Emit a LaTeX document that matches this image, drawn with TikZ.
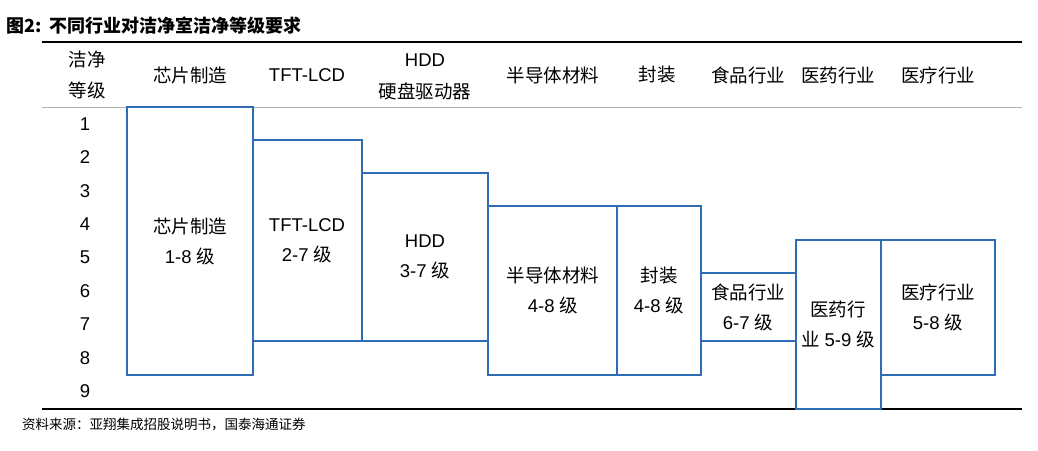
\documentclass[tikz,border=0pt]{standalone}
\usepackage{fontspec}
\setmainfont{Liberation Sans}
\newfontfamily\cjk{Noto Sans CJK SC}
\definecolor{boxblue}{HTML}{2E6DB4}
\begin{document}
\begin{tikzpicture}[x=1pt,y=-1pt,
  box/.style={draw=boxblue, line width=1.3pt},
  lab/.style={font=\fontsize{18.5}{22}\selectfont, align=center, inner sep=0pt},
  num/.style={font=\fontsize{18.5}{20}\selectfont, inner sep=0pt}]
\useasboundingbox (0,0) rectangle (1038,450);
\node[anchor=west, font=\cjk\bfseries\fontsize{18}{20}\selectfont, inner sep=0pt] (title) at (6,26) {图2:\ \ 不同行业对洁净室洁净等级要求};
\draw[line width=1.6pt] (42,42) -- (1022,42);
\draw[gray!60, line width=0.8pt] (42,107) -- (1022,107);
\draw[line width=1.2pt] (42,409) -- (1022,409);
% header
\node[lab,font=\cjk\fontsize{18.5}{31}\selectfont] (h0) at (87,75) {洁净\\等级};
\node[lab,font=\cjk\fontsize{18.5}{22}\selectfont] (h1) at (190,75) {芯片制造};
\node[lab] (h2) at (307,75) {TFT-LCD};
\node[lab] (h3) at (425,60) {HDD};
\node[lab,font=\cjk\fontsize{18.5}{22}\selectfont] (h3b) at (425,91) {硬盘驱动器};
\node[lab,font=\cjk\fontsize{18.5}{22}\selectfont] (h4) at (553,75) {半导体材料};
\node[lab,font=\cjk\fontsize{18.5}{22}\selectfont] (h5) at (657,75) {封装};
\node[lab,font=\cjk\fontsize{18.5}{22}\selectfont] (h6) at (748,75) {食品行业};
\node[lab,font=\cjk\fontsize{18.5}{22}\selectfont] (h7) at (838,75) {医药行业};
\node[lab,font=\cjk\fontsize{18.5}{22}\selectfont] (h8) at (938,75) {医疗行业};
% numbers
\foreach \i in {1,...,9} {
  \node[num] (n\i) at (85,{124+33.4*(\i-1)}) {\i};
}
% boxes
\draw[box] (127,107) rectangle (253,375);
\draw[box] (253,140) rectangle (362,341);
\draw[box] (362,173) rectangle (488,341);
\draw[box] (488,206) rectangle (617,375);
\draw[box] (617,206) rectangle (701,375);
\draw[box] (701,273) rectangle (796,341);
\draw[box] (796,240) rectangle (881,409);
\draw[box] (881,240) rectangle (995,375);
\node[lab] (b1) at (190,241) {{\cjk 芯片制造}\\[8pt]1-8 {\cjk 级}};
\node[lab] (b2) at (307,241) {TFT-LCD\\[8pt]2-7 {\cjk 级}};
\node[lab] (b3) at (425,257) {HDD\\[8pt]3-7 {\cjk 级}};
\node[lab] (b4) at (553,290) {{\cjk 半导体材料}\\[8pt]4-8 {\cjk 级}};
\node[lab] (b5) at (659,290) {{\cjk 封装}\\[8pt]4-8 {\cjk 级}};
\node[lab] (b6) at (748,307) {{\cjk 食品行业}\\[8pt]6-7 {\cjk 级}};
\node[lab] (b7) at (838,324) {{\cjk 医药行}\\[8pt]{\cjk 业} 5-9 {\cjk 级}};
\node[lab] (b8) at (938,307) {{\cjk 医疗行业}\\[8pt]5-8 {\cjk 级}};
\node[anchor=west, font=\cjk\fontsize{13.5}{15}\selectfont, inner sep=0pt] (src) at (22,425) {资料来源：亚翔集成招股说明书，国泰海通证券};
\end{tikzpicture}
\end{document}
